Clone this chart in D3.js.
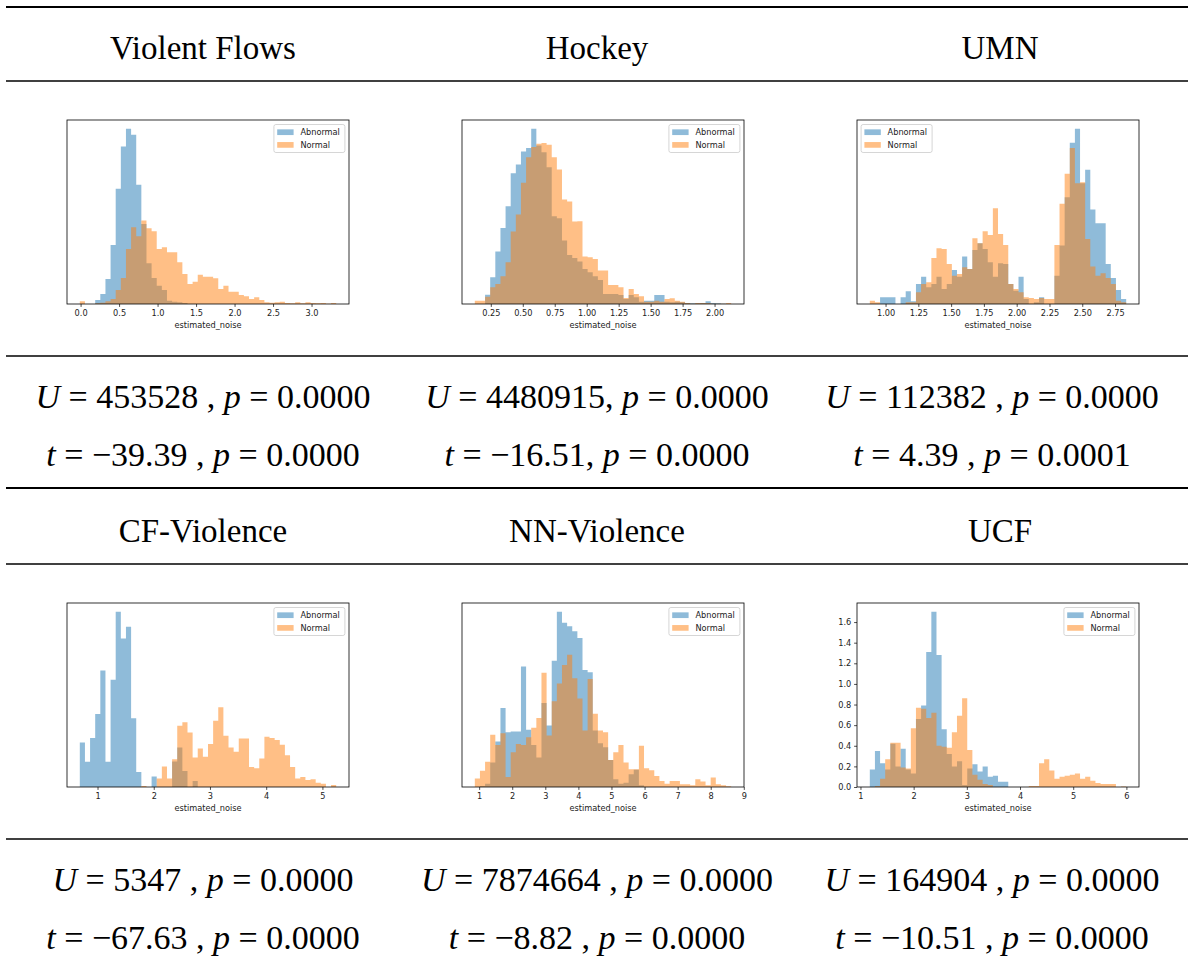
<!DOCTYPE html>
<html><head><meta charset="utf-8">
<script src="https://cdn.jsdelivr.net/npm/d3@7"></script>
<style>body{margin:0;background:#fff} svg{display:block}</style>
</head><body>
<svg id="c" width="1191" height="970"></svg>
<script>
// ---------------- data ----------------
const datasets = ["Violent Flows", "Hockey", "UMN", "CF-Violence", "NN-Violence", "UCF"];
const seriesNames = ["Abnormal", "Normal"];
// shared histogram bins (50 per plot): first edge and bin width
const binStart = [-0.01, 0.125, 0.88, 0.685, 0.869, 1.176];
const binWidth = [0.0666, 0.0401, 0.0391, 0.0912, 0.155, 0.0964];

const abnormalVF = [0,0,0,12,30,75,177,345,472,525,507,357,240,122,78,55,42,10,7,5,3,0,0,0,0,0,0,0,0,0,0,0,0,0,0,0,0,0,0,0,0,0,0,0,0,0,0,0,0,0];
const normalVF   = [8,0,0,2,4,8,15,42,78,165,230,203,250,227,218,165,170,155,155,125,90,60,67,88,82,82,77,45,55,37,37,27,23,15,20,12,5,4,5,7,3,2,5,2,5,3,2,3,1,3];

const abnormalHK = [0,0,28,80,157,228,293,392,418,457,467,525,475,455,410,263,257,190,147,138,127,105,95,83,72,30,30,30,27,15,27,20,7,10,10,27,27,7,5,7,5,3,2,2,3,8,3,2,1,0];
const normalHK   = [10,10,22,50,60,83,125,217,268,363,440,470,480,482,477,440,403,313,307,247,248,142,140,135,100,100,57,57,50,18,45,30,23,7,7,10,7,15,17,10,7,3,1,3,3,3,1,1,1,3];

const abnormalUMN = [0,0,20,20,20,0,20,38,8,60,82,50,60,82,45,60,102,82,142,105,162,182,165,125,82,122,120,60,40,82,15,0,5,20,0,0,85,175,320,483,525,362,402,283,242,242,120,78,42,15];
const normalUMN   = [10,5,0,0,0,0,0,5,5,35,60,65,138,167,165,120,85,90,110,105,197,182,218,207,287,210,177,60,45,35,20,18,15,18,15,15,177,300,390,467,362,365,195,112,85,92,78,60,10,5];

const abnormalCF = [133,75,146,218,348,75,320,523,443,478,205,45,0,0,31,0,0,0,76,118,48,0,18,0,0,0,0,0,0,0,0,0,0,0,0,0,0,0,0,0,0,0,0,0,0,0,0,0,0,0];
const normalCF   = [0,0,0,0,0,0,0,0,0,0,0,0,3,0,0,25,61,25,83,183,193,163,88,115,90,128,198,238,153,118,105,145,145,60,56,85,150,146,140,126,95,60,25,30,21,23,13,10,0,6];

const abnormalNN = [0,3,10,73,135,235,163,165,165,358,170,125,88,250,183,375,521,488,478,463,443,348,341,168,130,118,80,23,10,13,38,51,5,0,0,0,0,0,0,0,0,0,0,0,0,0,0,0,0,0];
const normalNN   = [25,48,75,155,125,160,30,103,128,125,148,176,205,340,153,255,308,363,393,323,263,168,321,218,168,163,80,103,125,73,53,53,123,56,50,33,18,10,18,18,8,8,5,23,16,5,28,8,5,2];

const abnormalUCF = [0.17,0.35,0.23,0.17,0.42,0.20,0.37,0.17,0.13,0.66,0.79,1.31,1.70,1.28,0.56,0.32,0.20,0.25,0.02,0.18,0.22,0.15,0.20,0.10,0.11,0.05,0.05,0,0,0,0,0,0,0,0,0,0,0,0,0,0,0,0,0,0,0,0,0,0,0];
const normalUCF   = [0,0.01,0.08,0.27,0.43,0.43,0.19,0.18,0.57,0.77,0.76,0.67,0.72,0.40,0.39,0.38,0.53,0.69,0.86,0.36,0.12,0.07,0.03,0.02,0,0,0,0,0,0,0,0.01,0.01,0.23,0.27,0.16,0.08,0.10,0.11,0.12,0.13,0.08,0.10,0.06,0.04,0.03,0.03,0.03,0,0.005];

const abnormal = [abnormalVF, abnormalHK, abnormalUMN, abnormalCF, abnormalNN, abnormalUCF];
const normal   = [normalVF, normalHK, normalUMN, normalCF, normalNN, normalUCF];

const xTicks = [
  [0.0, 0.5, 1.0, 1.5, 2.0, 2.5, 3.0],
  [0.25, 0.5, 0.75, 1.0, 1.25, 1.5, 1.75, 2.0],
  [1.0, 1.25, 1.5, 1.75, 2.0, 2.25, 2.5, 2.75],
  [1, 2, 3, 4, 5],
  [1, 2, 3, 4, 5, 6, 7, 8, 9],
  [1, 2, 3, 4, 5, 6]
];
const xTickFormat = [".1f", ".2f", ".2f", "d", "d", "d"];
const yTicks = [null, null, null, null, null, [0, 0.2, 0.4, 0.6, 0.8, 1.0, 1.2, 1.4, 1.6]];
const legendSide = ["right", "right", "left", "right", "right", "right"];
const xLabel = "estimated_noise";

const uStat = ["453528 ,", "4480915,", "112382 ,", "5347 ,", "7874664 ,", "164904 ,"];
const tStat = ["\u221239.39 ,", "\u221216.51,", "4.39 ,", "\u221267.63 ,", "\u22128.82 ,", "\u221210.51 ,"];
const uP = ["0.0000", "0.0000", "0.0000", "0.0000", "0.0000", "0.0000"];
const tP = ["0.0000", "0.0000", "0.0001", "0.0000", "0.0000", "0.0000"];

// ---------------- layout ----------------
const svg = d3.select("#c");
const C_BLUE = "#1f77b4", C_ORANGE = "#ff7f0e";
const SERIF = "'Liberation Serif', 'DejaVu Serif', serif";
const SANS = "'DejaVu Sans', sans-serif";
const headerCx = [203, 597, 1000];
const statCx = [203, 597, 992];
const plotLeft = [67, 462, 857];
const rowTop = [0, 483];
const PW = 282, PH = 184;

const rules = [{y: 7, w: 2}, {y: 81, w: 1.3}, {y: 356, w: 1.3}, {y: 488, w: 2}, {y: 564, w: 1.3}, {y: 839, w: 1.3}];
svg.selectAll("line.rule").data(rules).enter().append("line")
  .attr("x1", 6).attr("x2", 1188).attr("y1", d => d.y).attr("y2", d => d.y)
  .attr("stroke", "#000").attr("stroke-width", d => d.w);

datasets.forEach((name, k) => {
  const col = k % 3, row = Math.floor(k / 3);
  const off = rowTop[row];
  // header
  svg.append("text").attr("x", headerCx[col]).attr("y", 59 + off)
    .attr("text-anchor", "middle").attr("font-family", SERIF).attr("font-size", 33)
    .text(name);
  // stats
  const mk = (y, v, val, p) => {
    const t = svg.append("text").attr("x", statCx[col]).attr("y", y)
      .attr("text-anchor", "middle").attr("font-family", SERIF).attr("font-size", 34)
      .attr("xml:space", "preserve");
    t.append("tspan").attr("font-style", "italic").text(v);
    t.append("tspan").text(" = " + val + " ");
    t.append("tspan").attr("font-style", "italic").text("p");
    t.append("tspan").text(" = " + p);
  };
  mk(407.7 + off, "U", uStat[k], uP[k]);
  mk(465.5 + off, "t", tStat[k], tP[k]);

  drawHist(k, plotLeft[col], 120 + off);
});

function drawHist(k, left, top) {
  const g = svg.append("g");
  const a = abnormal[k], nm = normal[k];
  const n = a.length, x0 = binStart[k], w = binWidth[k], x1 = x0 + n * w;
  const span = x1 - x0;
  const x = d3.scaleLinear().domain([x0 - 0.05 * span, x1 + 0.05 * span]).range([left, left + PW]);
  const ymax = d3.max(a.concat(nm)) * 1.05;
  const y = d3.scaleLinear().domain([0, ymax]).range([top + PH, top]);
  const area = d3.area().curve(d3.curveStepAfter)
    .x(d => x(d.e)).y0(y(0)).y1(d => y(d.v));
  [[a, C_BLUE], [nm, C_ORANGE]].forEach(([vals, c]) => {
    const pts = vals.map((v, i) => ({e: x0 + i * w, v}));
    pts.push({e: x1, v: vals[n - 1]});
    g.append("path").attr("d", area(pts)).attr("fill", c).attr("fill-opacity", 0.5);
  });
  // frame
  g.append("rect").attr("x", left).attr("y", top).attr("width", PW).attr("height", PH)
    .attr("fill", "none").attr("stroke", "#000").attr("stroke-width", 0.8);
  // x axis
  const ax = g.append("g").attr("transform", `translate(0,${top + PH})`)
    .call(d3.axisBottom(x).tickValues(xTicks[k]).tickFormat(d3.format(xTickFormat[k]))
      .tickSize(2.9).tickPadding(2.9));
  ax.select(".domain").remove();
  ax.selectAll("line").attr("stroke-width", 0.7);
  ax.selectAll("text").attr("font-family", SANS).attr("font-size", 8.2).attr("fill", "#222");
  if (yTicks[k]) {
    const ay = g.append("g").attr("transform", `translate(${left},0)`)
      .call(d3.axisLeft(y).tickValues(yTicks[k]).tickFormat(d3.format(".1f"))
        .tickSize(2.9).tickPadding(2.9));
    ay.select(".domain").remove();
    ay.selectAll("line").attr("stroke-width", 0.7);
    ay.selectAll("text").attr("font-family", SANS).attr("font-size", 8.2).attr("fill", "#222");
  }
  g.append("text").attr("x", left + PW / 2).attr("y", top + PH + 24)
    .attr("text-anchor", "middle").attr("font-family", SANS).attr("font-size", 8.2)
    .attr("fill", "#222").text(xLabel);
  // legend
  const LW = 71, LH = 28;
  const lx = legendSide[k] === "right" ? left + PW - 4.1 - LW : left + 4.1;
  const ly = top + 4.5;
  const lg = g.append("g").attr("transform", `translate(${lx},${ly})`);
  lg.append("rect").attr("width", LW).attr("height", LH).attr("rx", 2)
    .attr("fill", "#fff").attr("fill-opacity", 0.8).attr("stroke", "#ccc").attr("stroke-width", 0.8);
  [C_BLUE, C_ORANGE].forEach((c, i) => {
    const cy = 7.7 + i * 12.7;
    lg.append("rect").attr("x", 3.3).attr("y", cy - 2.85).attr("width", 16.4).attr("height", 5.7)
      .attr("fill", c).attr("fill-opacity", 0.5);
    lg.append("text").attr("x", 26.5).attr("y", cy).attr("dy", "0.35em")
      .attr("font-family", SANS).attr("font-size", 8.2).attr("fill", "#222").text(seriesNames[i]);
  });
}
</script></body></html>
